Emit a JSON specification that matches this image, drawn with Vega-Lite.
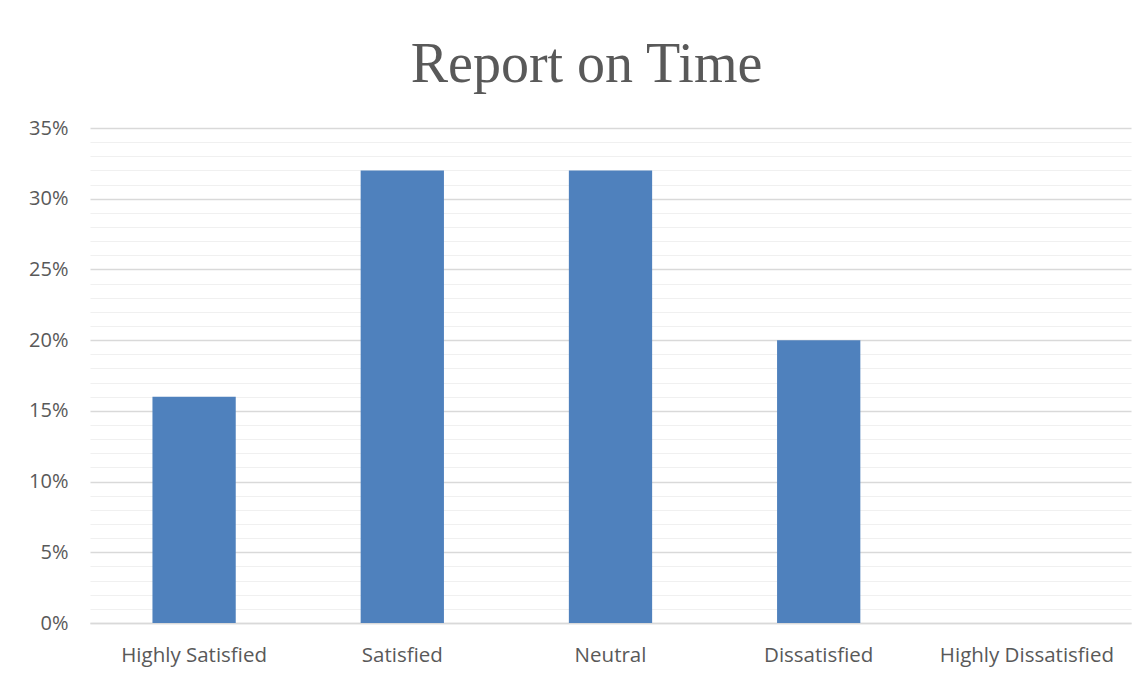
{
  "$schema": "https://vega.github.io/schema/vega-lite/v6.json",
  "width": 1041,
  "height": 495,
  "autosize": "none",
  "padding": {"left": 90, "top": 128, "right": 14, "bottom": 54},
  "background": "white",
  "title": {
    "text": "Report on Time",
    "font": "Liberation Serif",
    "fontWeight": "normal",
    "fontSize": 56,
    "color": "#595959",
    "anchor": "middle",
    "baseline": "alphabetic",
    "offset": 30,
    "dy": 50,
    "dx": -24
  },
  "config": {
    "view": {"stroke": null}
  },
  "data": {
    "values": [
      {"category": "Highly Satisfied", "share": 0.16},
      {"category": "Satisfied", "share": 0.32},
      {"category": "Neutral", "share": 0.32},
      {"category": "Dissatisfied", "share": 0.20},
      {"category": "Highly Dissatisfied", "share": 0.0}
    ]
  },
  "mark": {"type": "bar", "color": "#4f81bd"},
  "encoding": {
    "x": {
      "field": "category",
      "type": "nominal",
      "sort": null,
      "scale": {"paddingInner": 0.6, "paddingOuter": 0.3},
      "axis": {
        "title": null,
        "labelAngle": 0,
        "labelFont": "Open Sans",
        "labelFontSize": 20.5,
        "labelColor": "#595959",
        "labelPadding": 22,
        "ticks": false,
        "domain": true,
        "domainColor": "#d9d9d9",
        "domainWidth": 1.5
      }
    },
    "y": {
      "field": "share",
      "type": "quantitative",
      "scale": {"domain": [0, 0.35], "nice": false},
      "axis": {
        "title": null,
        "values": [0, 0.01, 0.02, 0.03, 0.04, 0.05, 0.06, 0.07, 0.08, 0.09, 0.1, 0.11, 0.12, 0.13, 0.14, 0.15, 0.16, 0.17, 0.18, 0.19, 0.2, 0.21, 0.22, 0.23, 0.24, 0.25, 0.26, 0.27, 0.28, 0.29, 0.3, 0.31, 0.32, 0.33, 0.34, 0.35],
        "labelExpr": "round(datum.value*100) % 5 == 0 ? format(datum.value, '.0%') : ''",
        "labelFont": "Open Sans",
        "labelFontSize": 20,
        "labelColor": "#595959",
        "labelPadding": 22,
        "ticks": false,
        "domain": false,
        "grid": true,
        "gridColor": {"condition": {"test": "round(datum.value*100) % 5 == 0", "value": "#d9d9d9"}, "value": "#f0f0f0"},
        "gridWidth": {"condition": {"test": "round(datum.value*100) % 5 == 0", "value": 1.5}, "value": 1.2}
      }
    }
  }
}
